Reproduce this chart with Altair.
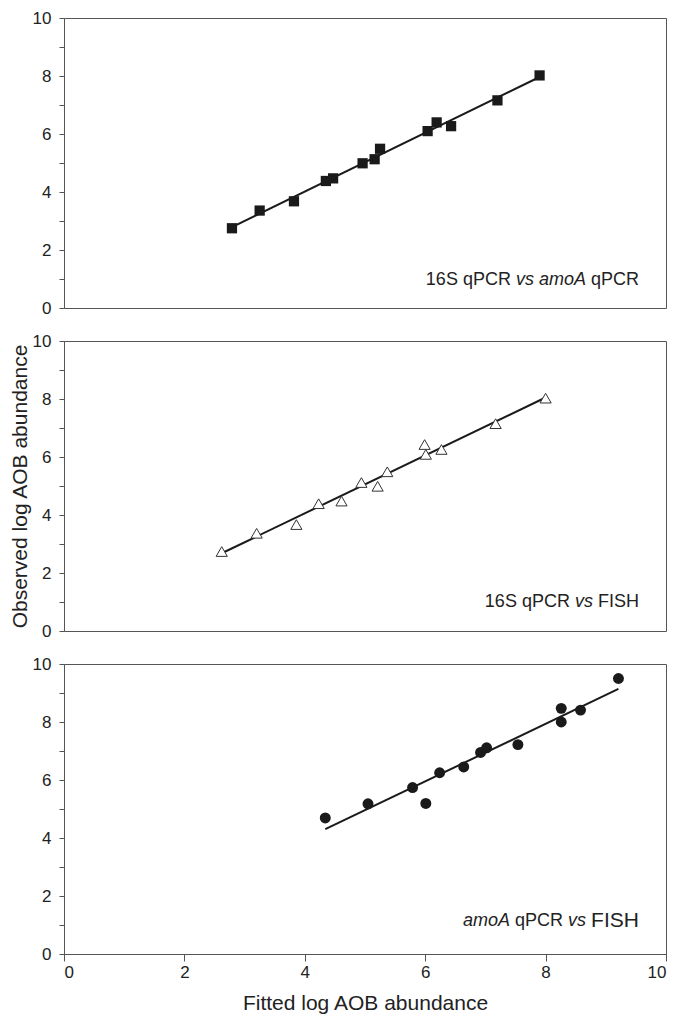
import altair as alt
import pandas as pd

# Panel 1: 16S qPCR vs amoA qPCR (filled squares)
x1 = [2.79, 3.25, 3.82, 4.35, 4.47, 4.96, 5.16, 5.25, 6.04, 6.19, 6.43, 7.20, 7.90]
y1 = [2.75, 3.36, 3.68, 4.38, 4.47, 4.99, 5.13, 5.49, 6.10, 6.40, 6.27, 7.16, 8.02]

# Panel 2: 16S qPCR vs FISH (open triangles)
x2 = [2.62, 3.20, 3.86, 4.23, 4.61, 4.94, 5.21, 5.37, 5.99, 6.01, 6.27, 7.17, 8.00]
y2 = [2.74, 3.37, 3.67, 4.39, 4.48, 5.12, 4.99, 5.49, 6.43, 6.09, 6.26, 7.15, 8.03]

# Panel 3: amoA qPCR vs FISH (filled circles)
x3 = [4.34, 5.05, 5.79, 6.01, 6.24, 6.64, 6.92, 7.02, 7.54, 8.26, 8.26, 8.58, 9.21]
y3 = [4.69, 5.18, 5.74, 5.19, 6.25, 6.45, 6.95, 7.11, 7.22, 8.47, 8.00, 8.41, 9.50]

y_ticks = list(range(0, 11))
x_ticks = [0, 2, 4, 6, 8, 10]

# annotation segments: (text, italic, fontsize, dx from right anchor)
ann1 = [("16S qPCR", False, 18, -128), ("vs amoA", True, 18, -53), ("qPCR", False, 18, 0)]
ann2 = [("16S qPCR", False, 18, -69), ("vs", True, 18, -46), ("FISH", False, 18, 0)]
ann3 = [("amoA", True, 18, -129), ("qPCR", False, 18, -76), ("vs", True, 18, -53), ("FISH", False, 21, 0)]
ann_x = 9.55
ann_y = [0.95, 1.0, 1.15]

FONT = "Liberation Sans"
W, H = 602, 290


def panel(xs, ys, shape, filled, ann, ay, ytitle, xaxis):
    df = pd.DataFrame({"x": xs, "y": ys})
    if xaxis:
        xax = alt.Axis(values=x_ticks, format="d", title="Fitted log AOB abundance", tickSize=7,
                       labelPadding=3, titleFontSize=21, titlePadding=12)
    else:
        xax = None
    yax = alt.Axis(values=y_ticks, labelExpr="datum.value % 2 === 0 ? datum.label : ''",
                   title=ytitle, tickSize=5, labelPadding=8, titlePadding=2,
                   titleFontSize=21)
    xenc = alt.X("x:Q", scale=alt.Scale(domain=[0, 10], nice=False), axis=xax)
    yenc = alt.Y("y:Q", scale=alt.Scale(domain=[0, 10], nice=False), axis=yax)
    base = alt.Chart(df)
    if filled:
        pts = base.mark_point(shape=shape, filled=True, color="#1a1a1a", opacity=1,
                              size=120 if shape == "circle" else 105)
    else:
        pts = base.mark_point(shape=shape, filled=True, fill="white", stroke="#333333",
                              strokeWidth=1, opacity=1, size=125)
    pts = pts.encode(x=xenc, y=yenc)
    line = base.transform_regression("x", "y").mark_line(
        color="#1a1a1a", strokeWidth=2).encode(x=xenc, y=yenc)
    layers = [line, pts]
    tdf = pd.DataFrame({"x": [ann_x], "y": [ay]})
    for txt, ital, fs, dx in ann:
        t = alt.Chart(tdf).mark_text(
            text=txt, align="right", baseline="middle", dx=dx, fontSize=fs,
            font=FONT, fontStyle="italic" if ital else "normal", color="#222222"
        ).encode(x=xenc, y=yenc)
        layers.append(t)
    return alt.layer(*layers).properties(width=W, height=H)


p1 = panel(x1, y1, "square", True, ann1, ann_y[0], None, False)
p2 = panel(x2, y2, "triangle-up", False, ann2, ann_y[1], "Observed log AOB abundance", False)
p3 = panel(x3, y3, "circle", True, ann3, ann_y[2], None, True)

chart = alt.vconcat(p1, p2, p3, spacing=14).properties(
    padding={"top": 0, "left": 0, "right": 0, "bottom": 0}
).configure_view(
    stroke="#555555", strokeWidth=1
).configure_axis(
    grid=False, domainColor="#555555", tickColor="#555555", labelColor="#222222",
    titleColor="#222222", labelFont=FONT, titleFont=FONT, labelFontSize=17,
    titleFontWeight="normal", domainWidth=1, tickWidth=1
)

chart.save("out.html", embed_options={"renderer": "svg", "actions": False})
